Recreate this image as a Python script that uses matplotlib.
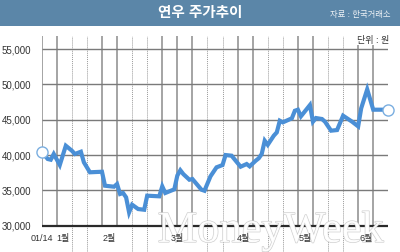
import matplotlib.pyplot as plt
import matplotlib.patheffects as pe
from matplotlib.patches import Rectangle
from matplotlib.transforms import blended_transform_factory

plt.rcParams['font.family'] = ['Liberation Sans', 'Noto Sans CJK KR']

# 거래일 인덱스 / 종가
days = [0, 2, 3, 4, 6, 8, 10, 11, 13, 14, 16, 20, 21, 24, 25, 26, 27, 28, 29, 30,
        32, 34, 35, 39, 40, 41, 44, 45, 46, 47, 49, 50, 53, 54, 56, 58, 60, 61, 63,
        66, 68, 69, 71, 72, 73, 74, 75, 77, 78, 79, 80, 83, 84, 85, 86, 89, 90, 91,
        93, 94, 96, 98, 100, 103, 105, 106, 108, 110, 115]
price = [40470, 39440, 39340, 40150, 38590, 41320, 40620, 40150, 40470, 38970,
         37560, 37640, 35660, 35520, 35900, 34490, 34630, 34020, 31890, 32970,
         32360, 32260, 34250, 34160, 35570, 34630, 35150, 37100, 37850, 37300,
         36510, 36610, 35100, 34950, 36990, 38260, 38590, 40000, 39910,
         38350, 38730, 38400, 39200, 39540, 40150, 42030, 41450, 42740, 43210,
         44860, 44630, 45200, 46270, 46420, 45480, 47080, 44720, 45240,
         45100, 44720, 43450, 43540, 45570, 44720, 44060, 46610, 49300, 46420, 46420]

yticks = [30000, 35000, 40000, 45000, 50000, 55000]
xlabels = ['01/14', '1월', '2월', '3월', '4월', '5월', '6월']
xlabel_pos = [0, 7, 22.5, 45, 67, 87.5, 107.5]
grid_days = list(range(0, 116, 5))
grid_solid = [1, 1, 0, 0, 1, 1, 0, 0, 1, 1, 1, 0, 0, 1, 1, 0, 0, 1, 1, 0, 0, 1, 1, 0]

W, H = 400, 253
fig = plt.figure(figsize=(4, 2.53), dpi=100)
ax = fig.add_axes([41.7 / W, 0, (388.3 - 41.7) / W, (H - 37) / H])
ax.set_xlim(0, 115)
ax.set_ylim(26280, 56850)
ax.axis('off')

# title bar
fig.patches.append(Rectangle((0, (H - 27) / H), 1, 27 / H, transform=fig.transFigure,
                             facecolor='#5b86a8', edgecolor='none', zorder=0))
fig.text(0.5, (H - 13.5) / H, '연우 주가추이', color='white', fontsize=10.5,
         fontweight='bold', ha='center', va='center')
fig.text(390 / W, (H - 15) / H, '자료 : 한국거래소', color='#eef2f6', fontsize=6,
         ha='right', va='center')

# grid
for d, s in zip(grid_days, grid_solid):
    if s:
        ax.vlines(d, 30000, 56850, color='#8c8c8c', lw=1.1, zorder=1)
    else:
        ax.vlines(d, 26280, 56850, color='#9a9a9a', lw=0.7, linestyles=(0, (1, 1)), zorder=1)
for v in yticks[1:]:
    ax.hlines(v, 0, 115, color='#7a7a7a', lw=1.0, zorder=1)
ax.hlines(30000, 0, 115, color='#2a2a2a', lw=1.6, zorder=1)

# watermark
ax.text(38.5, 27700, 'MoneyWeek', fontsize=32, family='Liberation Serif', color='white',
        alpha=0.9, ha='left', va='baseline', zorder=2,
        path_effects=[pe.Stroke(linewidth=0.9, foreground='#c8c8c8'), pe.Normal()])

ax.plot(days, price, color='#4a8fd6', lw=3.0, solid_joinstyle='miter', zorder=3)
ax.plot([days[0], days[-1]], [price[0], price[-1]], 'o', ms=8, mfc='white',
        mec='#7aaee0', mew=1.0, zorder=4, clip_on=False)

ty = blended_transform_factory(fig.transFigure, ax.transData)
for v in yticks:
    ax.text(31 / W, v, f'{v:,}', transform=ty, ha='right', va='center',
            fontsize=7, color='#333333')

tx = blended_transform_factory(ax.transData, fig.transFigure)
for p, lab in zip(xlabel_pos, xlabels):
    ax.text(p, (H - 239) / H, lab, transform=tx, ha='center', va='center',
            fontsize=6.5, color='#333333', zorder=5)

fig.text(389 / W, (H - 41) / H, '단위 : 원', ha='right', va='center', fontsize=6.5,
         color='#333333', bbox=dict(facecolor='white', edgecolor='none', pad=0.5))

fig.savefig('out.png', dpi=100)
